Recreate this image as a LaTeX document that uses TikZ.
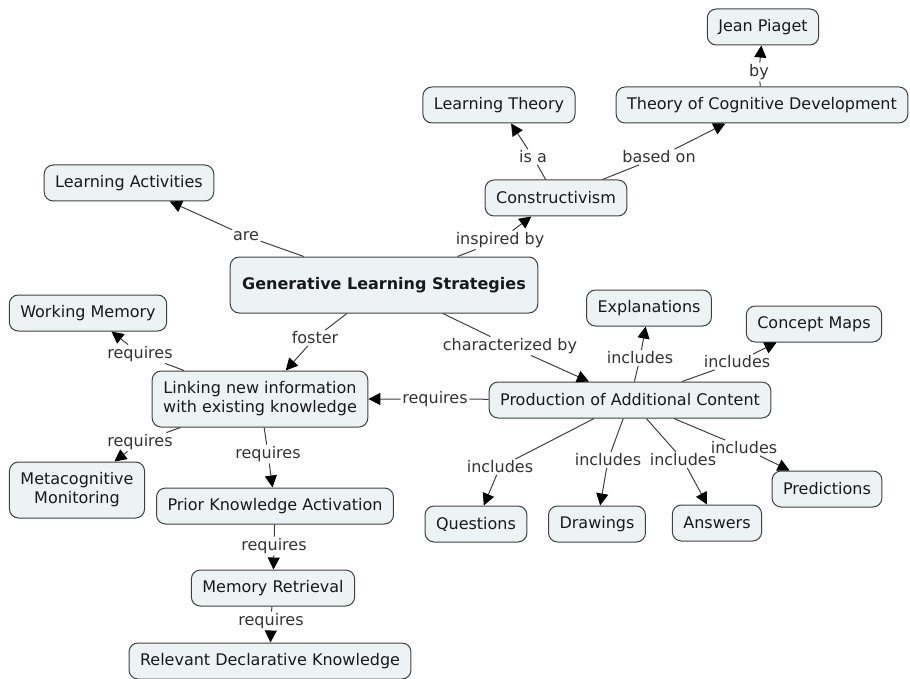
\documentclass[tikz,border=0pt]{standalone}
\usepackage{fontspec}
\setmainfont{DejaVu Sans}
\usetikzlibrary{arrows.meta}
\definecolor{cbox}{HTML}{EDF3F5}
\tikzset{
	concept/.style={draw=black!75,fill=cbox,rounded corners=9pt,line width=1pt,align=center,inner xsep=11pt,minimum height=36pt,font=\fontsize{16}{19}\selectfont,text=black!90},
	lbl/.style={inner sep=1.5pt,font=\fontsize{16}{19}\selectfont,text=black!80},
	link/.style={draw=black!75,line width=1pt},
	>={Triangle[length=12pt,width=12pt,color=black]}
}

\begin{document}
\begin{tikzpicture}[x=1pt,y=-1pt]
            \useasboundingbox (0,0) rectangle (910,679);
            % concepts
            \node[concept] (piaget) at (763,27) {Jean Piaget};
            \node[concept] (lt) at (499,105) {Learning Theory};
            \node[concept] (tcd) at (762,105) {Theory of Cognitive Development};
            \node[concept] (con) at (556,198) {Constructivism};
            \node[concept] (la) at (129,183) {Learning Activities};
            \node[concept,minimum height=56pt,inner xsep=12pt,font=\fontsize{16}{19}\selectfont\bfseries] (gls) at (384,285) {Generative Learning Strategies};
            \node[concept] (wm) at (88,313) {Working Memory};
            \node[concept,minimum height=56pt] (link) at (260,399) {Linking new information\\with existing knowledge};
            \node[concept,minimum height=56pt] (meta) at (77,490) {Metacognitive\\Monitoring};
            \node[concept] (pka) at (275,506) {Prior Knowledge Activation};
            \node[concept] (mr) at (273,588) {Memory Retrieval};
            \node[concept] (rdk) at (270,661) {Relevant Declarative Knowledge};
            \node[concept] (pac) at (630,400) {Production of Additional Content};
            \node[concept] (expl) at (649,308) {Explanations};
            \node[concept] (cmap) at (814,324) {Concept Maps};
            \node[concept] (ques) at (476,524) {Questions};
            \node[concept] (drw) at (597,524) {Drawings};
            \node[concept] (ans) at (717,523) {Answers};
            \node[concept] (pred) at (827,489) {Predictions};
            % linking phrases
            \node[lbl] (by) at (759,72) {by};
            \node[lbl] (isa) at (533,157) {is a};
            \node[lbl] (based) at (659,157) {based on};
            \node[lbl] (insp) at (500,240) {inspired by};
            \node[lbl] (are) at (246,236) {are};
            \node[lbl] (fost) at (315,338) {foster};
            \node[lbl] (char) at (510,346) {characterized by};
            \node[lbl] (rwm) at (140,354) {requires};
            \node[lbl] (rlink) at (435,399) {requires};
            \node[lbl] (rmeta) at (140,442) {requires};
            \node[lbl] (rpka) at (268,454) {requires};
            \node[lbl] (rmr) at (274,546) {requires};
            \node[lbl] (rrdk) at (271,621) {requires};
            \node[lbl] (iexpl) at (640,358) {includes};
            \node[lbl] (icmap) at (737,362) {includes};
            \node[lbl] (iques) at (500,467) {includes};
            \node[lbl] (idrw) at (608,460) {includes};
            \node[lbl] (ians) at (683,460) {includes};
            \node[lbl] (ipred) at (744,448) {includes};
            % connectors
            \draw[link,->] (tcd) -- (by) -- (piaget);
            \draw[link,->] (con) -- (isa) -- (lt);
            \draw[link,->] (con) -- (based) -- (tcd);
            \draw[link,->] (gls) -- (insp) -- (con);
            \draw[link,->] (gls) -- (are) -- (la);
            \draw[link,->] (gls) -- (fost) -- (link);
            \draw[link,->] (gls) -- (char) -- (pac);
            \draw[link,->] (link) -- (rwm) -- (wm);
            \draw[link,->] (link) -- (rmeta) -- (meta);
            \draw[link,->] (link) -- (rpka) -- (pka);
            \draw[link,->] (pac) -- (rlink) -- (link);
            \draw[link,->] (pka) -- (rmr) -- (mr);
            \draw[link,->] (mr) -- (rrdk) -- (rdk);
            \foreach \l/\t in {iexpl/expl,icmap/cmap,iques/ques,idrw/drw,ians/ans,ipred/pred}
                \draw[link,->] (pac) -- (\l) -- (\t);
        \end{tikzpicture}
\end{document}
